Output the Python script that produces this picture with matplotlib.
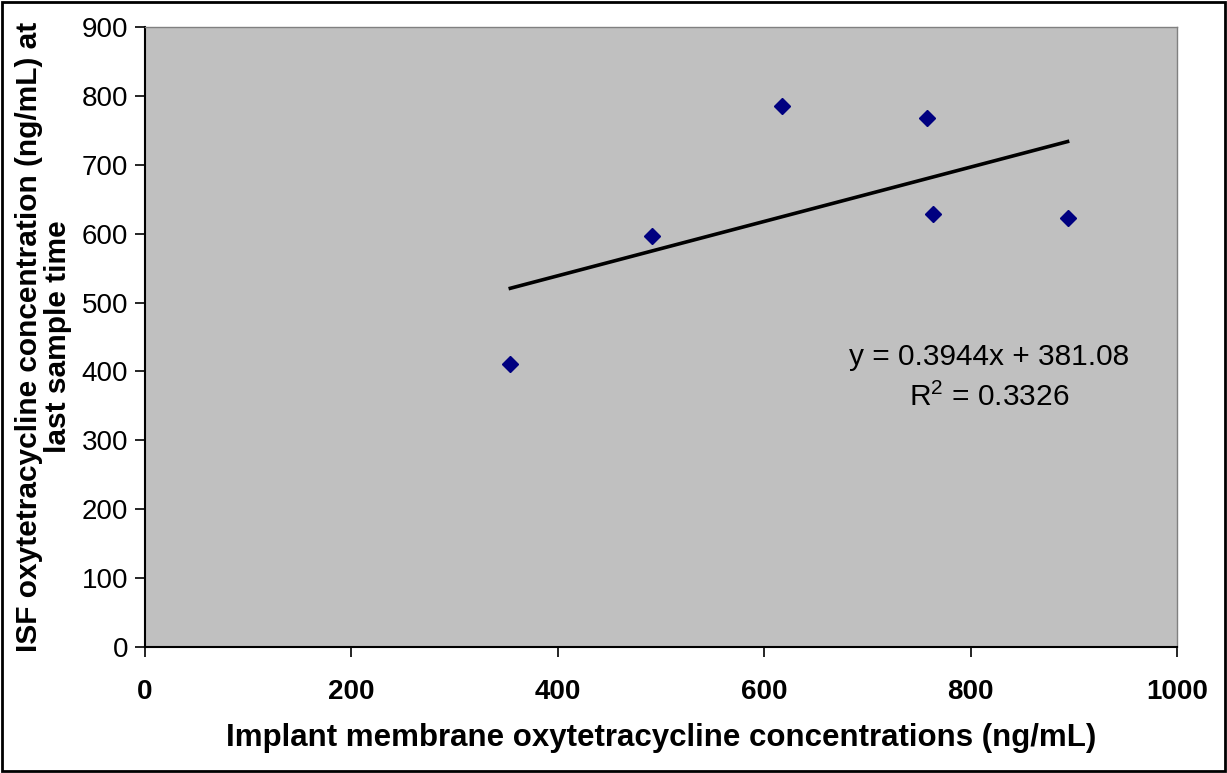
import matplotlib
matplotlib.use('Agg')
from matplotlib import pyplot as plt
from matplotlib.patches import Rectangle
import numpy as np

plt.rcParams['font.family'] = ['Liberation Sans', 'DejaVu Sans']

# data
membrane = [354, 491, 617, 758, 764, 894]
isf = [411, 597, 785, 768, 628, 622]
slope = 0.3944
intercept = 381.08
eq_text = 'y = 0.3944x + 381.08'
r2_text = '$\\mathregular{R^2}$ = 0.3326'
x_ticks = [0, 200, 400, 600, 800, 1000]
y_ticks = [0, 100, 200, 300, 400, 500, 600, 700, 800, 900]

fig = plt.figure(figsize=(12.27, 7.73), dpi=100)
ax = fig.add_axes([0.1182, 0.1630, 0.8410, 0.8021])
ax.set_facecolor('#c0c0c0')

xs = np.array([min(membrane), max(membrane)])
ax.plot(xs, slope * xs + intercept, color='black', lw=2.6, zorder=2)
ax.plot(membrane, isf, ls='none', marker='D', ms=8, color='#000080', zorder=3)

ax.set_xlim(0, 1000)
ax.set_ylim(0, 900)
ax.set_xticks(x_ticks)
ax.set_yticks(y_ticks)
ax.tick_params(direction='out', length=7, width=1.2, color='black')
ax.tick_params(axis='y', labelsize=20, pad=5)
ax.tick_params(axis='x', labelsize=20, pad=16)
for lab in ax.get_xticklabels():
    lab.set_fontweight('bold')

for s in ['left', 'bottom']:
    ax.spines[s].set_color('black')
    ax.spines[s].set_linewidth(1.5)
for s in ['top', 'right']:
    ax.spines[s].set_color('#808080')
    ax.spines[s].set_linewidth(1)

ax.set_xlabel('Implant membrane oxytetracycline concentrations (ng/mL)',
              fontsize=22.5, fontweight='bold', labelpad=13)
ax.set_ylabel('ISF oxytetracycline concentration (ng/mL) at\nlast sample time',
              fontsize=21.5, fontweight='bold', labelpad=7, linespacing=1.05)

ax.text(0.818, 0.468, eq_text, transform=ax.transAxes, ha='center', va='center', fontsize=21.5)
ax.text(0.818, 0.402, r2_text, transform=ax.transAxes, ha='center', va='center', fontsize=21.5)

fig.add_artist(Rectangle((0.002, 0.003), 0.996, 0.994, transform=fig.transFigure,
                         fill=False, edgecolor='black', lw=2))

fig.savefig('out.png', dpi=100)
